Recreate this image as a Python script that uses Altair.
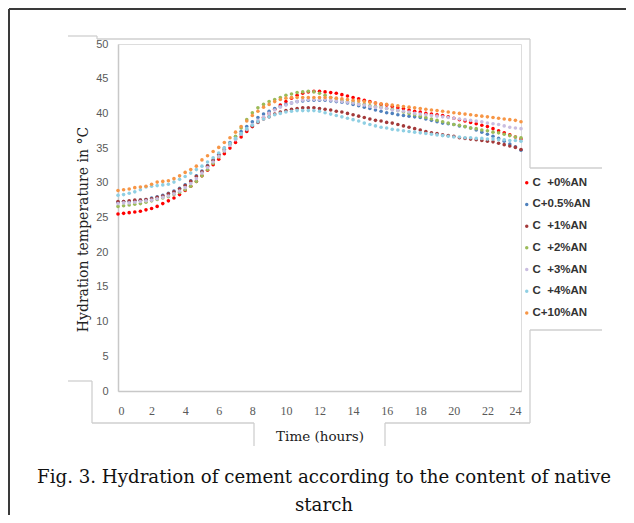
import altair as alt
import pandas as pd

# ---------------- data ----------------
hours = [round(i / 3, 3) for i in range(73)]  # one reading every 20 minutes, 0..24 h

series_names = ["C\u00a0\u00a0+0%AN", "C+0.5%AN", "C\u00a0\u00a0+1%AN", "C\u00a0\u00a0+2%AN",
                "C\u00a0\u00a0+3%AN", "C\u00a0\u00a0+4%AN", "C+10%AN"]
series_colors = ["#ff0000", "#4f81bd", "#a33a3a", "#9bbb59", "#c9bde0", "#8fcfe3", "#f79646"]

c_0 = [25.5, 25.6, 25.7, 25.8, 25.9, 26.1, 26.3, 26.6, 27.0, 27.4, 27.8, 28.3,
       28.9, 29.5, 30.2, 31.0, 31.8, 32.6, 33.4, 34.2, 35.0, 35.8, 36.6, 37.4,
       38.1, 38.8, 39.4, 40.0, 40.6, 41.2, 41.7, 42.2, 42.6, 42.9, 43.1, 43.2,
       43.2, 43.1, 43.0, 42.9, 42.7, 42.5, 42.3, 42.1, 41.9, 41.7, 41.5, 41.3,
       41.2, 41.0, 40.8, 40.7, 40.5, 40.3, 40.2, 40.0, 39.9, 39.8, 39.7, 39.5,
       39.3, 39.1, 38.9, 38.7, 38.5, 38.3, 38.1, 37.8, 37.5, 37.2, 36.9, 36.6,
       36.3]
c_05 = [27.2, 27.3, 27.3, 27.4, 27.5, 27.6, 27.8, 28.0, 28.2, 28.5, 28.8, 29.2,
        29.7, 30.3, 31.0, 31.7, 32.5, 33.3, 34.1, 35.0, 35.8, 36.6, 37.4, 38.1,
        38.8, 39.4, 39.9, 40.3, 40.7, 41.0, 41.3, 41.5, 41.7, 41.8, 41.9, 41.9,
        41.9, 41.9, 41.8, 41.7, 41.6, 41.5, 41.3, 41.1, 40.9, 40.7, 40.5, 40.3,
        40.1, 40.0, 39.8, 39.7, 39.6, 39.5, 39.4, 39.2, 39.0, 38.8, 38.6, 38.5,
        38.4, 38.2, 38.1, 37.9, 37.6, 37.3, 37.0, 36.7, 36.4, 36.0, 35.6, 35.2,
        34.7]
c_1 = [27.3, 27.3, 27.4, 27.5, 27.5, 27.6, 27.7, 27.9, 28.1, 28.4, 28.7, 29.1,
       29.6, 30.2, 30.9, 31.6, 32.4, 33.2, 34.0, 34.8, 35.6, 36.3, 37.0, 37.6,
       38.2, 38.7, 39.2, 39.5, 39.9, 40.2, 40.4, 40.6, 40.7, 40.8, 40.8, 40.8,
       40.7, 40.6, 40.5, 40.3, 40.2, 40.0, 39.8, 39.6, 39.4, 39.2, 39.0, 38.9,
       38.7, 38.6, 38.4, 38.2, 38.0, 37.8, 37.6, 37.4, 37.2, 37.1, 36.9, 36.8,
       36.7, 36.5, 36.4, 36.3, 36.2, 36.1, 36.0, 35.9, 35.7, 35.5, 35.3, 35.1,
       34.8]
c_2 = [26.6, 26.7, 26.8, 26.9, 27.0, 27.2, 27.4, 27.6, 27.8, 28.0, 28.3, 28.6,
       29.0, 29.5, 30.2, 31.0, 31.9, 32.8, 33.7, 34.6, 35.6, 36.7, 37.9, 39.1,
       40.1, 40.8, 41.3, 41.7, 42.0, 42.3, 42.6, 42.8, 43.0, 43.1, 43.2, 43.1,
       42.9, 42.6, 42.3, 42.1, 41.9, 41.7, 41.6, 41.4, 41.3, 41.1, 41.0, 40.9,
       40.7, 40.6, 40.4, 40.2, 40.0, 39.8, 39.6, 39.4, 39.2, 39.0, 38.8, 38.6,
       38.4, 38.3, 38.1, 37.9, 37.8, 37.6, 37.5, 37.3, 37.2, 37.0, 36.8, 36.6,
       36.5]
c_3 = [27.0, 27.1, 27.1, 27.2, 27.3, 27.4, 27.5, 27.7, 27.9, 28.1, 28.4, 28.8,
       29.3, 29.9, 30.6, 31.4, 32.2, 33.0, 33.8, 34.6, 35.4, 36.2, 37.0, 37.7,
       38.4, 39.0, 39.5, 40.0, 40.5, 40.9, 41.2, 41.5, 41.7, 41.9, 42.0, 42.0,
       42.0, 42.0, 41.9, 41.8, 41.7, 41.6, 41.5, 41.3, 41.2, 41.0, 40.9, 40.8,
       40.7, 40.5, 40.4, 40.3, 40.2, 40.0, 39.9, 39.8, 39.7, 39.6, 39.5, 39.4,
       39.3, 39.2, 39.1, 39.0, 38.9, 38.8, 38.6, 38.5, 38.4, 38.2, 38.0, 37.9,
       37.8]
c_4 = [28.2, 28.3, 28.5, 28.7, 29.0, 29.4, 29.5, 29.6, 29.7, 29.8, 30.1, 30.5,
       30.9, 31.4, 31.9, 32.4, 33.0, 33.6, 34.3, 35.0, 35.7, 36.4, 37.1, 37.8,
       38.3, 38.8, 39.2, 39.5, 39.8, 40.0, 40.2, 40.3, 40.4, 40.4, 40.4, 40.4,
       40.3, 40.1, 39.9, 39.7, 39.5, 39.3, 39.1, 38.9, 38.6, 38.4, 38.2, 38.0,
       37.9, 37.7, 37.6, 37.5, 37.4, 37.3, 37.2, 37.1, 37.0, 36.9, 36.8, 36.7,
       36.6, 36.6, 36.5, 36.5, 36.4, 36.4, 36.3, 36.3, 36.2, 36.2, 36.1, 36.1,
       36.0]
c_10 = [28.9, 29.0, 29.1, 29.3, 29.4, 29.5, 29.8, 30.1, 30.2, 30.3, 30.6, 31.0,
        31.5, 31.9, 32.4, 33.3, 33.9, 34.5, 35.1, 35.8, 36.5, 37.3, 38.1, 38.9,
        39.7, 40.3, 40.9, 41.3, 41.7, 42.0, 42.2, 42.3, 42.3, 42.3, 42.3, 42.3,
        42.3, 42.3, 42.3, 42.2, 42.1, 42.0, 41.9, 41.8, 41.7, 41.6, 41.5, 41.4,
        41.3, 41.2, 41.1, 41.0, 40.9, 40.8, 40.7, 40.6, 40.5, 40.4, 40.3, 40.2,
        40.1, 40.0, 39.9, 39.8, 39.7, 39.6, 39.5, 39.4, 39.3, 39.2, 39.1, 39.0,
        38.8]

all_series = [c_0, c_05, c_1, c_2, c_3, c_4, c_10]

x_ticks = list(range(0, 25, 2))
y_ticks = list(range(0, 51, 5))

caption_lines = ["Fig. 3. Hydration of cement according to the content of native", "starch"]

# ---------------- table ----------------
rows = []
for name, vals in zip(series_names, all_series):
    for h, v in zip(hours, vals):
        rows.append({"Time": h, "Temp": v, "Series": name})
df = pd.DataFrame(rows)

W, H = 403, 347
PAD_L, PAD_T = 110, 36
OX, OY = 8 + PAD_L, 8 + PAD_T  # page position of plot origin

points = alt.Chart(df).mark_point(filled=True, shape="circle", size=13, opacity=1).encode(
    x=alt.X("Time:Q", scale=alt.Scale(domain=[0, 24], nice=False),
            axis=alt.Axis(values=x_ticks, title="Time  (hours)", grid=False, ticks=False,
                          domainColor="#c8c8c8", domainWidth=1.5,
                          labelFont="Liberation Serif", labelFontSize=12, labelColor="#595959",
                          labelPadding=14, titleFont="DejaVu Serif", titleFontSize=13.5,
                          titleFontWeight="normal", titleColor="#222222", titlePadding=13)),
    y=alt.Y("Temp:Q", scale=alt.Scale(domain=[0, 50], nice=False),
            axis=alt.Axis(values=y_ticks, title="Hydration temperature in °C", grid=False,
                          ticks=False, domainColor="#c8c8c8", domainWidth=1.5,
                          labelFont="Liberation Sans", labelFontSize=11, labelColor="#595959",
                          labelPadding=10, titleFont="DejaVu Serif", titleFontSize=14,
                          titleFontWeight="normal", titleColor="#222222", titlePadding=5,
                          titleY=185)),
    color=alt.Color("Series:N", scale=alt.Scale(domain=series_names, range=series_colors),
                    sort=series_names,
                    legend=alt.Legend(title=None, orient="none", legendX=403, legendY=133,
                                      symbolType="circle", symbolSize=12, labelOffset=0,
                                      labelFont="Liberation Sans", labelFontSize=11.5,
                                      labelFontWeight="bold", labelColor="#333333",
                                      rowPadding=8.7, padding=0)),
    order=alt.Order("Time:Q"),
)

# decorative frame lines (page coordinates of the reference's cut-out frame)
gray_segments = [
    (68, 36, 97, 36), (97, 36, 97, 39), (97, 39, 530, 39), (530, 39, 530, 168),
    (530, 168, 602, 168), (530, 330, 602, 330), (530, 330, 530, 423),
    (385, 423, 530, 423), (385, 423, 385, 446), (254, 423, 254, 446),
    (92, 423, 254, 423), (92, 381, 92, 423), (68, 381, 92, 381),
]
dark_segments = [(9, 9, 634, 9), (9, 9, 9, 523)]

one = pd.DataFrame({"k": [0]})
layers = []
for (x1, y1, x2, y2) in gray_segments:
    layers.append(alt.Chart(one).mark_rule(color="#cfcfcf", strokeWidth=1.3).encode(
        x=alt.value(x1 - OX), x2=alt.value(x2 - OX), y=alt.value(y1 - OY), y2=alt.value(y2 - OY)))
for (x1, y1, x2, y2) in dark_segments:
    layers.append(alt.Chart(one).mark_rule(color="#3a3a3a", strokeWidth=2).encode(
        x=alt.value(x1 - OX), x2=alt.value(x2 - OX), y=alt.value(y1 - OY), y2=alt.value(y2 - OY)))

cap_y = [478, 506]
for line, yy in zip(caption_lines, cap_y):
    layers.append(alt.Chart(pd.DataFrame({"t": [line]})).mark_text(
        font="DejaVu Serif", fontSize=18.2, color="#111111", align="center", baseline="middle"
    ).encode(text="t:N", x=alt.value(324 - OX), y=alt.value(yy - OY)))

chart = alt.layer(*layers, points).properties(
    width=W, height=H,
    autosize=alt.AutoSizeParams(type="none"),
    padding={"left": PAD_L, "top": PAD_T, "right": 618 - PAD_L - W, "bottom": 507 - PAD_T - H},
).configure_view(strokeWidth=0).configure(background="white")

chart.save("out.html", embed_options={"renderer": "svg", "actions": False})
